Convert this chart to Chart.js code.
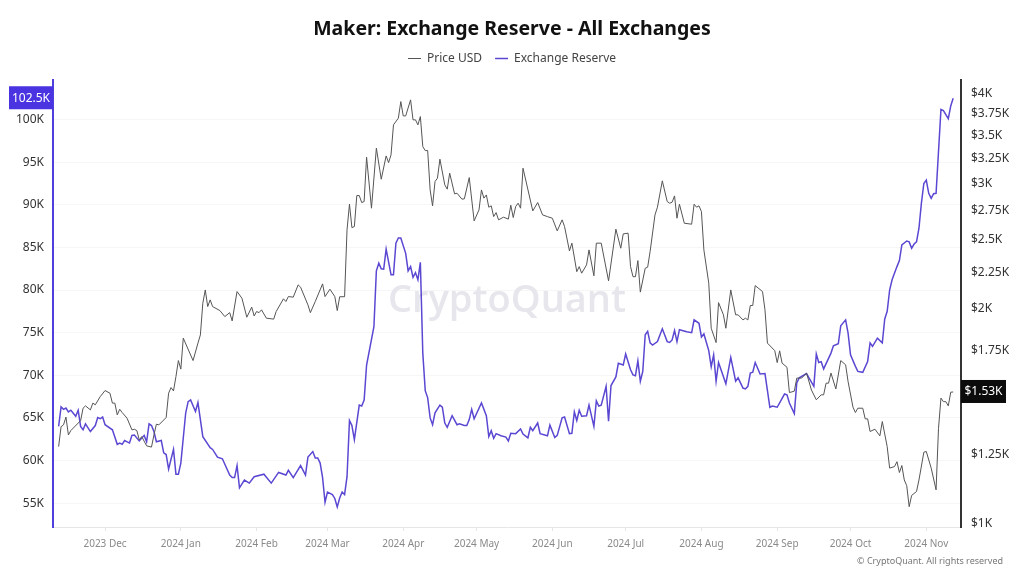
<!DOCTYPE html>
<html>
<head>
<meta charset="utf-8">
<title>Maker: Exchange Reserve - All Exchanges</title>
<script src="https://cdn.jsdelivr.net/npm/chart.js@4"></script>
<style>
    html, body { margin: 0; padding: 0; background: #fff; }
    canvas { display: block; }
</style>
</head>
<body>
<canvas id="reserve-chart" width="1024" height="577"></canvas>
<script>
// Days are counted from 2023-12-01
const monthDays = [0, 31, 62, 91, 122, 152, 183, 213, 244, 275, 305, 336];
const monthLabels = ['2023 Dec', '2024 Jan', '2024 Feb', '2024 Mar', '2024 Apr', '2024 May', '2024 Jun', '2024 Jul', '2024 Aug', '2024 Sep', '2024 Oct', '2024 Nov'];

const reserveTicks = [55000, 60000, 65000, 70000, 75000, 80000, 85000, 90000, 95000, 100000];
const priceTicks = [1000, 1250, 1750, 2000, 2250, 2500, 2750, 3000, 3250, 3500, 3750, 4000];

const priceDays = [-19,-18,-17,-16,-15,-14,-10,-9,-8,-6,-5,-4,-2,0,2,3,4,5,6,7,9,11,12,13,14,15,17,19,20,21,22,25,26,27,28,29,30,31,32,36,38,39,40,41,42,43,44,47,49,51,52,54,56,58,60,61,62,63,64,66,69,70,73,74,75,77,79,80,83,84,86,89,90,92,94,95,96,98,99,100,101,102,103,104,105,106,107,109,111,113,115,116,117,118,120,121,122,123,125,126,127,128,129,130,131,132,133,134,135,136,137,139,140,141,143,144,146,147,149,151,153,154,155,156,157,158,159,160,161,163,165,166,167,168,169,170,171,175,177,179,181,183,185,187,188,190,191,193,194,195,197,198,200,201,203,206,209,211,212,214,215,216,217,218,219,221,222,223,225,226,228,230,231,232,233,234,235,237,240,241,242,243,244,245,247,248,250,251,253,254,256,258,259,261,262,263,264,265,266,269,270,271,274,275,276,277,279,280,282,283,285,287,289,291,293,294,295,296,297,299,301,303,304,306,307,308,310,311,312,313,315,317,318,320,321,323,324,325,326,327,328,329,330,332,333,335,336,338,340,341,342,343,344,345,346,347];
const priceUsd = [1283,1368,1376,1411,1332,1351,1395,1452,1463,1444,1476,1468,1507,1537,1524,1476,1476,1421,1447,1432,1406,1354,1357,1351,1311,1325,1286,1281,1332,1379,1376,1409,1524,1552,1535,1608,1693,1647,1820,1693,1791,1839,2037,2126,2015,2059,2015,1989,1951,1976,1924,2115,2070,1947,2011,1955,1983,1976,1994,1941,1935,1983,2066,2048,2081,2077,2161,2145,2026,1976,2048,2168,2081,2131,2081,1989,2080,2080,2580,2803,2599,2608,2882,2882,2818,2827,3262,2767,3358,3038,3275,3205,3286,3620,3699,3902,3726,3726,3924,3679,3679,3620,3718,3375,3332,3332,2935,2788,3015,3048,3241,2983,2942,3098,2898,2904,2849,2852,3054,2656,2752,2935,2858,2888,2776,2788,2693,2728,2665,2688,2671,2794,2685,2782,2812,2767,3148,2743,2818,2708,2693,2679,2572,2665,2608,2411,2472,2255,2292,2244,2305,2419,2225,2472,2472,2189,2586,2432,2547,2553,2292,2219,2219,2337,2111,2280,2288,2406,2708,2776,3022,2827,2812,2821,2879,2679,2803,2636,2628,2803,2776,2788,2737,2419,2173,1879,1794,2041,1962,1879,2126,1962,1962,1930,1941,1930,2022,2022,2156,2115,1994,1791,1748,1682,1747,1679,1657,1527,1534,1600,1600,1626,1540,1492,1516,1516,1574,1574,1626,1545,1693,1670,1582,1457,1432,1452,1452,1403,1403,1347,1357,1328,1391,1283,1197,1203,1222,1180,1207,1152,1131,1057,1096,1110,1152,1260,1263,1197,1116,1361,1500,1483,1483,1463,1529,1530];

const reserveDays = [-19,-18,-17,-16,-15,-14,-12,-11,-10,-9,-8,-6,-4,-3,-2,-1,0,3,5,6,7,8,10,11,12,14,16,17,18,19,20,21,23,24,25,26,28,29,30,31,33,34,35,37,38,40,43,44,46,48,51,52,53,54,55,57,59,61,65,68,71,74,75,77,80,82,83,85,86,87,88,89,90,91,93,94,95,96,97,98,99,100,101,102,104,105,106,107,110,111,112,113,114,115,117,118,119,120,121,123,124,125,126,127,128,129,130,131,132,133,134,135,137,138,139,140,142,144,145,147,148,149,150,151,154,156,157,158,159,160,162,164,165,166,168,170,171,173,174,175,177,178,181,182,184,185,187,188,190,191,192,193,194,195,197,198,200,201,202,203,205,206,207,209,210,212,213,215,216,217,218,219,220,221,222,223,224,226,228,230,231,232,233,234,235,238,240,241,243,244,245,247,248,249,250,251,254,256,258,259,261,262,263,264,265,266,268,270,272,273,275,278,279,280,282,283,284,287,288,290,291,292,293,294,297,298,300,301,303,304,305,307,308,310,312,313,314,316,318,319,320,321,322,324,325,326,328,329,330,331,332,333,334,335,336,337,338,339,340,342,343,345,346,347];
const reserveValues = [64000,66300,66000,66150,65700,65900,65200,65900,64000,63600,64300,63400,64100,65050,64900,65100,64200,63600,61900,62050,61900,62350,62050,62950,63000,62300,62950,62200,64300,64100,63400,62200,62350,60900,60700,59000,61300,58400,58400,59700,65600,66900,67100,65750,66800,62800,61500,61300,60400,60200,58300,58000,58000,59400,56800,57700,57350,58100,58400,57350,58600,58300,58850,58000,59400,58300,60400,61050,60300,60300,59700,58000,55100,56300,56000,55550,54550,55600,56300,56000,58100,64700,64100,62450,66500,66400,67100,71200,75700,82250,83150,82500,82450,84800,81800,81800,85500,86100,86100,84300,82250,82750,81500,82050,81200,83250,72600,68200,67350,65000,64200,65600,66500,66250,64400,63900,65250,64200,64300,64100,64100,64800,66000,64900,66750,65250,62800,63500,62600,63150,62900,62750,62300,63200,63150,63700,63100,62650,63900,63500,64400,63150,62900,64150,62700,62950,65000,65100,63150,63200,65700,64700,65900,65200,65250,66500,64000,67000,66400,66500,68700,64600,68800,69800,71400,71200,72500,70650,70050,69950,71700,69300,70450,74750,75150,73800,73550,73950,75450,73950,73850,74150,75250,73950,75350,75100,75000,76500,76100,74500,74850,72900,71000,72400,69300,71500,69000,72100,69300,69700,68500,68400,68700,70250,70350,71500,70150,70200,66250,66400,66250,67800,67700,66750,65500,69100,69700,70200,69700,68700,72500,71500,71600,70750,72600,73450,73700,75800,76500,74950,72400,71050,70450,70350,71600,73800,73400,74350,73800,76600,77500,80000,81200,82750,83450,85300,85750,85650,84900,85400,85650,87250,90200,92500,92900,91350,90750,91300,91350,101200,101050,100100,101600,102500];

function toPoints(days, values) {
    return days.map((day, i) => ({ x: day, y: values[i] }));
}

function shortNumber(value) {
    return (value / 1000) + 'K';
}

// Watermark, last value boxes and the copyright line
const chartExtras = {
    id: 'chartExtras',
    // Leave some more room between the legend and the plot
    beforeInit(chart) {
        const fit = chart.legend.fit;
        chart.legend.fit = function () {
            fit.call(chart.legend);
            this.height += 5;
        };
    },
    beforeDatasetsDraw(chart) {
        const ctx = chart.ctx;
        ctx.save();
        ctx.fillStyle = '#e6e6ec';
        ctx.font = '600 38px "Open Sans"';
        ctx.textAlign = 'center';
        ctx.textBaseline = 'middle';
        ctx.fillText('CryptoQuant', 507, 301);
        ctx.restore();
    },
    afterDraw(chart) {
        const ctx = chart.ctx;
        const reserveLast = reserveValues[reserveValues.length - 1];
        const priceLast = priceUsd[priceUsd.length - 1];
        const reserveY = chart.scales.yReserve.getPixelForValue(reserveLast);
        const priceY = chart.scales.yPrice.getPixelForValue(priceLast);

        ctx.save();
        ctx.textBaseline = 'middle';
        ctx.font = '12px "Noto Sans"';

        ctx.fillStyle = '#4a33e0';
        ctx.fillRect(9, reserveY - 12, 44, 23);
        ctx.fillStyle = '#fff';
        ctx.textAlign = 'center';
        ctx.fillText('102.5K', 31, reserveY);

        ctx.fillStyle = '#0b0b0b';
        ctx.fillRect(961, priceY - 12, 45, 23);
        ctx.fillStyle = '#fff';
        ctx.fillText('$1.53K', 983.5, priceY);

        ctx.fillStyle = '#777';
        ctx.font = '9px "Noto Sans"';
        ctx.textAlign = 'right';
        ctx.fillText('© CryptoQuant. All rights reserved', 1003, 561);
        ctx.restore();
    }
};

const ctx = document.getElementById('reserve-chart').getContext('2d');

new Chart(ctx, {
    type: 'line',
    data: {
        datasets: [{
            label: 'Price USD',
            data: toPoints(priceDays, priceUsd),
            yAxisID: 'yPrice',
            borderColor: '#555',
            backgroundColor: '#555',
            borderWidth: 1,
            pointRadius: 0,
            tension: 0
        }, {
            label: 'Exchange Reserve',
            data: toPoints(reserveDays, reserveValues),
            yAxisID: 'yReserve',
            borderColor: '#5a48d2',
            backgroundColor: '#5a48d2',
            borderWidth: 1.5,
            pointRadius: 0,
            tension: 0
        }]
    },
    options: {
        responsive: false,
        animation: false,
        plugins: {
            title: {
                display: true,
                text: 'Maker: Exchange Reserve - All Exchanges',
                color: '#111',
                font: { family: '"Noto Sans"', size: 19.5, weight: 'bold', lineHeight: 1 },
                padding: { top: 20, bottom: 0 }
            },
            legend: {
                display: true,
                position: 'top',
                labels: {
                    color: '#444',
                    font: { family: '"Noto Sans"', size: 12 },
                    boxWidth: 13,
                    boxHeight: 0,
                    padding: 13
                }
            },
            tooltip: { enabled: false }
        },
        scales: {
            x: {
                type: 'linear',
                min: -21.3,
                max: 350.2,
                afterBuildTicks(axis) {
                    axis.ticks = monthDays.map(day => ({ value: day }));
                },
                afterFit(axis) {
                    axis.height = 50;
                },
                grid: {
                    drawOnChartArea: false,
                    color: '#e6e6e6',
                    tickLength: 4
                },
                border: { color: '#e6e6e6' },
                ticks: {
                    color: '#8a8a8a',
                    font: { family: '"Noto Sans"', size: 10 },
                    maxRotation: 0,
                    autoSkip: false,
                    padding: 7,
                    callback: function (value) {
                        return monthLabels[monthDays.indexOf(value)];
                    }
                }
            },
            yReserve: {
                type: 'linear',
                position: 'left',
                min: 52200,
                max: 104700,
                afterBuildTicks(axis) {
                    axis.ticks = reserveTicks.map(v => ({ value: v }));
                },
                afterFit(axis) {
                    axis.width = 53;
                },
                grid: { color: '#f6f6f6', drawTicks: false },
                border: { color: '#4f3fdc', width: 2 },
                ticks: {
                    color: '#333',
                    font: { family: '"Noto Sans"', size: 12 },
                    padding: 9,
                    callback: shortNumber
                }
            },
            yPrice: {
                type: 'logarithmic',
                position: 'right',
                min: 990,
                max: 4190,
                afterBuildTicks(axis) {
                    axis.ticks = priceTicks.map(v => ({ value: v }));
                },
                afterFit(axis) {
                    axis.width = 63;
                },
                grid: { drawOnChartArea: false, drawTicks: false },
                border: { color: '#333', width: 2 },
                ticks: {
                    color: '#333',
                    font: { family: '"Noto Sans"', size: 12 },
                    padding: 10,
                    callback: function (value) {
                        return '$' + shortNumber(value);
                    }
                }
            }
        }
    },
    plugins: [chartExtras]
});
</script>
</body>
</html>
